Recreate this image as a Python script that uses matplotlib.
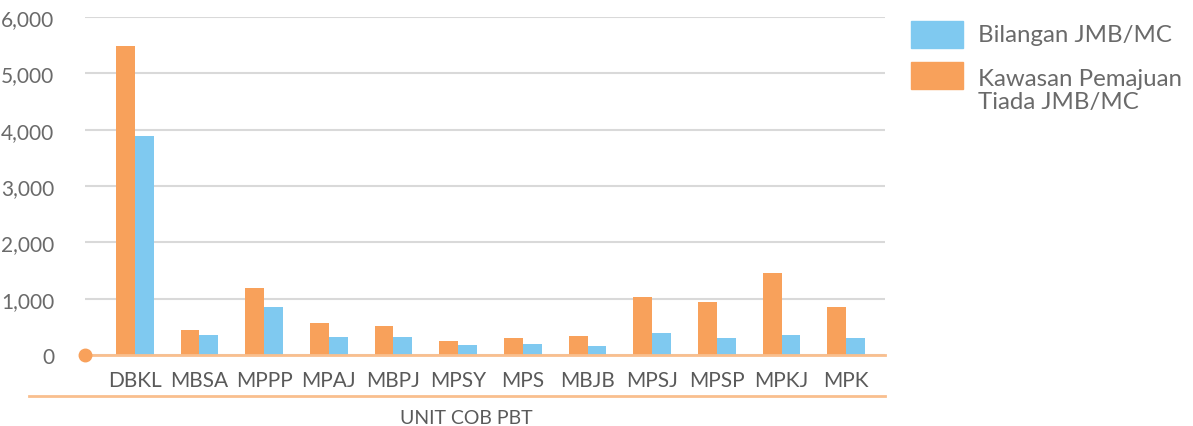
import numpy as np
import matplotlib.pyplot as plt
from matplotlib.lines import Line2D
from matplotlib.patches import Rectangle

plt.rcParams['font.family'] = ['Lato', 'DejaVu Sans']

units = ['DBKL', 'MBSA', 'MPPP', 'MPAJ', 'MBPJ', 'MPSY', 'MPS',
         'MBJB', 'MPSJ', 'MPSP', 'MPKJ', 'MPK']
kawasan_tiada = [5480, 440, 1190, 565, 515, 250, 300, 335, 1030, 940, 1455, 855]
bilangan_jmb = [3880, 355, 850, 320, 320, 180, 195, 160, 390, 300, 355, 300]
yticks = [0, 1000, 2000, 3000, 4000, 5000, 6000]
legend_labels = ['Bilangan JMB/MC', 'Kawasan Pemajuan\nTiada JMB/MC']

orange = '#F8A15B'
blue = '#7FC9F0'
line_orange = '#F9BF8E'
grey_text = '#5a5a5a'

W, H = 1193, 427
fig = plt.figure(figsize=(W / 100, H / 100), dpi=100)
ax = fig.add_axes([85 / W, 1 - 356 / H, 800 / W, 338 / H])

x = np.arange(len(units))
w = 0.29
ax.bar(x - w / 2, kawasan_tiada, w, color=orange, zorder=3)
ax.bar(x + w / 2, bilangan_jmb, w, color=blue, zorder=3)

ax.set_xlim(-0.77, len(units) - 0.4)
ax.set_ylim(0, 6000)
ax.set_yticks(yticks)
ax.set_yticklabels([f'{v:,}' for v in yticks], fontsize=15, color='#6a6a6a')
ax.set_xticks(x)
ax.set_xticklabels(units, fontsize=15, color=grey_text)
ax.tick_params(length=0)
ax.tick_params(axis='y', pad=22)
ax.tick_params(axis='x', pad=11)

ax.grid(axis='y', color='#d9d9d9', linewidth=1.5, zorder=0)
for s in ['top', 'right', 'left']:
    ax.spines[s].set_visible(False)
ax.spines['bottom'].set_color(line_orange)
ax.spines['bottom'].set_linewidth(2)
ax.spines['bottom'].set_zorder(4)

# dot at origin of the axis line
ax.plot([0], [0], 'o', color=orange, markersize=9, transform=ax.transAxes,
        clip_on=False, zorder=5)

# second rule under the category labels
fig.add_artist(Line2D([29 / W, 885 / W], [1 - 397 / H, 1 - 397 / H],
                      color=line_orange, linewidth=2))
fig.text(466 / W, 1 - 419 / H, 'UNIT COB PBT', fontsize=14,
         color=grey_text, ha='center', va='center')

# legend drawn by hand: swatch aligned with first line of each label
for (top, colr, label, ty) in [(22, blue, legend_labels[0], 36),
                               (63, orange, legend_labels[1], 91)]:
    fig.add_artist(Rectangle((911 / W, 1 - (top + 27) / H), 52 / W, 27 / H,
                             color=colr, transform=fig.transFigure))
    fig.text(978 / W, 1 - ty / H, label, fontsize=17.3, color='#6a6a6a',
             ha='left', va='center', linespacing=1.1)

fig.savefig('out.png', dpi=100)
